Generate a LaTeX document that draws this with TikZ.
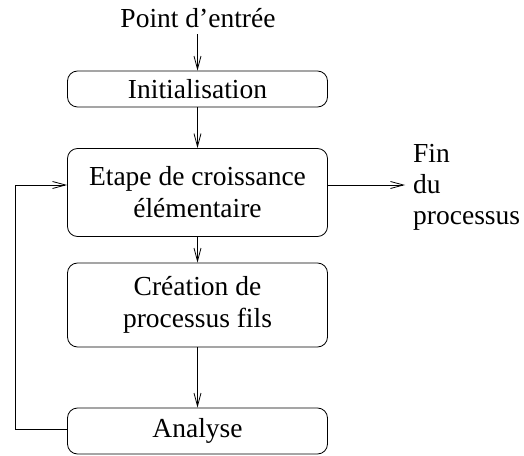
\documentclass[tikz,border=0pt]{standalone}
\usepackage{fontspec}
\setmainfont{Liberation Serif}
\usetikzlibrary{arrows.meta}
\begin{document}
\begin{tikzpicture}[x=1bp,y=-1bp,
  every node/.style={font=\fontsize{27.5bp}{32bp}\selectfont},
  box/.style={draw, line width=0.8bp, rounded corners=10bp, minimum width=260bp, inner sep=0pt, align=center},
  arr/.style={line width=0.8bp, -{Straight Barb[length=13bp,width=7bp,line width=0.8bp]}},
  lbl/.style={inner sep=0pt, align=left}]
\useasboundingbox (0,0) rectangle (524,456);
\node[lbl, anchor=base] (entry) at (198,28) {Point d'entrée};
\node[box, minimum height=36bp] (init) at (197.5,89) {Initialisation};
\node[box, minimum height=88bp] (etape) at (197.5,192.5) {Etape de croissance\\élémentaire};
\node[box, minimum height=84bp] (creation) at (197.5,305) {Création de\\processus fils};
\node[box, minimum height=46bp] (analyse) at (197.5,431) {Analyse};
\node[lbl, anchor=north west, align=left, font=\fontsize{27.5bp}{31bp}\selectfont] (fin) at (413,144) {Fin\\du\\processus};
\coordinate (finarrow) at (405,185);
\coordinate (loopcorner) at (15,429);
\draw[arr] ([yshift=-6bp]entry.south -| init.north) -- (init.north);
\draw[arr] (init) -- (etape);
\draw[arr] (etape) -- (creation);
\draw[arr] (creation) -- (analyse);
\draw[arr] (etape.east |- finarrow) -- (finarrow);
\draw[arr] (analyse.west |- loopcorner) -- (loopcorner) |- (etape.west |- finarrow);
\end{tikzpicture}
\end{document}
